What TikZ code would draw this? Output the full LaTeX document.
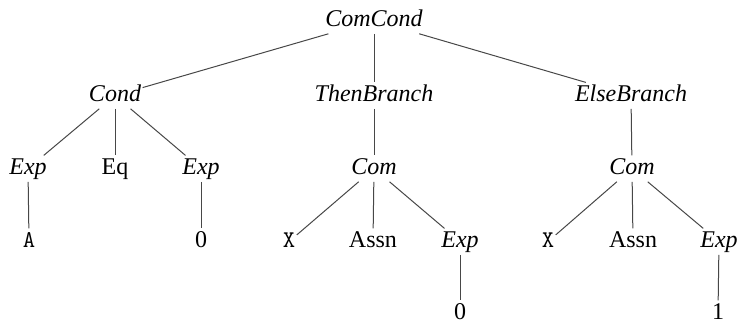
\documentclass[tikz,border=0pt]{standalone}
\usepackage{fontspec}
\setmainfont{Liberation Serif}
\begin{document}
\begin{tikzpicture}[x=0.5pt,y=-0.5pt,
  every node/.style={anchor=base,inner sep=0.6pt,text height=9pt,text depth=2.6pt,
    font=\fontsize{12}{14}\selectfont},
  nt/.style={font=\fontsize{12}{14}\selectfont\itshape},
  tm/.style={font=\fontsize{12}{14}\selectfont\ttfamily},
  edge/.style={draw=black!72,line width=0.5pt}]
\useasboundingbox (0,0) rectangle (739,324);
% rows (baselines)
\def\rA{27}\def\rB{102}\def\rC{175}\def\rD{248}\def\rE{320}
\node[nt] (root) at (374,\rA) {ComCond};
\node[nt] (cond) at (115,\rB) {Cond};
\node[nt] (then) at (374,\rB) {ThenBranch};
\node[nt] (else) at (631,\rB) {ElseBranch};
\node[nt] (e1) at (28,\rC) {Exp};
\node (eq) at (115,\rC) {Eq};
\node[nt] (e2) at (201,\rC) {Exp};
\node[nt] (c1) at (374,\rC) {Com};
\node[nt] (c2) at (632,\rC) {Com};
\node[tm] (a) at (29,\rD) {A};
\node (z1) at (201,\rD) {0};
\node[tm] (x1) at (289,\rD) {X};
\node (as1) at (373,\rD) {Assn};
\node[nt] (e3) at (460,\rD) {Exp};
\node[tm] (x2) at (548,\rD) {X};
\node (as2) at (633,\rD) {Assn};
\node[nt] (e4) at (719,\rD) {Exp};
\node (z2) at (460,\rE) {0};
\node (one) at (718,\rE) {1};
% tree edges
\path[edge] (root) -- (cond);
\path[edge] (root) -- (then);
\path[edge] (root) -- (else);
\path[edge] (cond) -- (e1);
\path[edge] (cond) -- (eq);
\path[edge] (cond) -- (e2);
\path[edge] (e1) -- (a);
\path[edge] (e2) -- (z1);
\path[edge] (then) -- (c1);
\path[edge] (c1) -- (x1);
\path[edge] (c1) -- (as1);
\path[edge] (c1) -- (e3);
\path[edge] (e3) -- (z2);
\path[edge] (else) -- (c2);
\path[edge] (c2) -- (x2);
\path[edge] (c2) -- (as2);
\path[edge] (c2) -- (e4);
\path[edge] (e4) -- (one);
\end{tikzpicture}
\end{document}
